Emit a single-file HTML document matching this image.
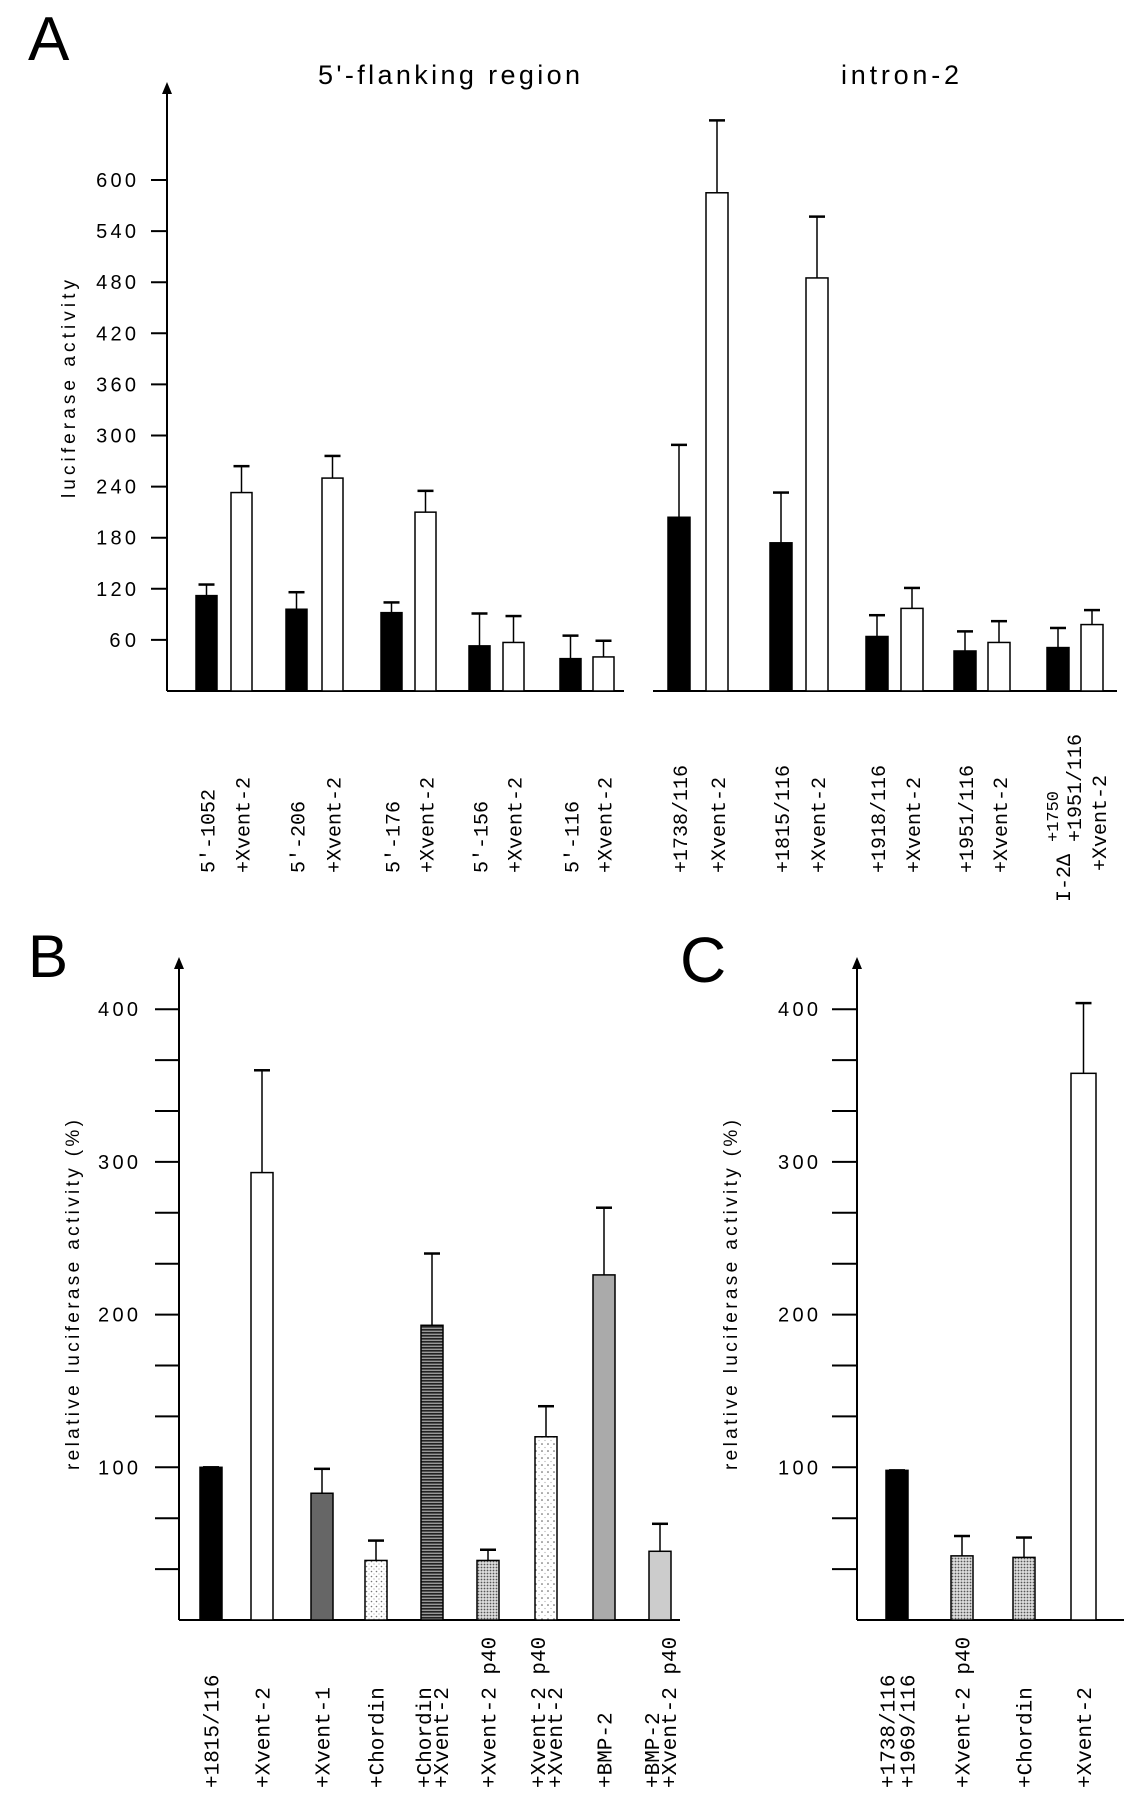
<!DOCTYPE html>
<html><head><meta charset="utf-8"><style>
html,body{margin:0;padding:0;background:#fff}
svg{display:block}
text{font-family:"Liberation Sans",sans-serif;fill:#000}
.mono{font-family:"Liberation Mono",monospace}
</style></head><body>
<svg id="fig" width="1146" height="1800" viewBox="0 0 1146 1800" xmlns="http://www.w3.org/2000/svg">
<defs>
<pattern id="dotsLight" width="5" height="5" patternUnits="userSpaceOnUse"><rect width="5" height="5" fill="#fff"/><circle cx="1.5" cy="1.5" r="0.8" fill="#777"/><circle cx="4" cy="4" r="0.6" fill="#aaa"/></pattern>
<pattern id="dotsDense" width="3" height="3" patternUnits="userSpaceOnUse"><rect width="3" height="3" fill="#ddd"/><circle cx="1.5" cy="1.5" r="0.9" fill="#555"/></pattern>
<pattern id="dotsSparse" width="6" height="7" patternUnits="userSpaceOnUse"><rect width="6" height="7" fill="#fff"/><circle cx="2" cy="2" r="0.8" fill="#555"/><circle cx="5" cy="5.5" r="0.6" fill="#aaa"/></pattern>
<pattern id="stripes" width="4" height="3" patternUnits="userSpaceOnUse"><rect width="4" height="3" fill="#999"/><rect width="4" height="1.6" fill="#222"/></pattern>
</defs>
<g id="root"></g>
</svg>
<script>
// ---------- Panel A data ----------
const aLeftLabels = ["5'-1052","+Xvent-2","5'-206","+Xvent-2","5'-176","+Xvent-2","5'-156","+Xvent-2","5'-116","+Xvent-2"];
const aLeftValues = [112,233,96,250,92,210,53,57,38,40];
const aLeftErrors = [125,264,116,276,104,235,91,88,65,59];
const aRightLabels = ["+1738/116","+Xvent-2","+1815/116","+Xvent-2","+1918/116","+Xvent-2","+1951/116","+Xvent-2","",""];
const aRightValues = [204,585,174,485,64,97,47,57,51,78];
const aRightErrors = [289,670,233,557,89,121,70,82,74,95];
const aTicks = [60,120,180,240,300,360,420,480,540,600];
// ---------- Panel B data ----------
const bLabels = [["+1815/116"],["+Xvent-2"],["+Xvent-1"],["+Chordin"],["+Chordin","+Xvent-2"],["+Xvent-2 p40"],["+Xvent-2 p40","+Xvent-2"],["+BMP-2"],["+BMP-2","+Xvent-2 p40"]];
const bValues = [100,293,83,39,193,39,120,226,45];
const bErrors = [100,360,99,52,240,46,140,270,63];
const bTicks = [100,200,300,400];
// ---------- Panel C data ----------
const cLabels = [["+1738/116","+1969/116"],["+Xvent-2 p40"],["+Chordin"],["+Xvent-2"]];
const cValues = [98,42,41,358];
const cErrors = [98,55,54,404];
const cTicks = [100,200,300,400];

const NS="http://www.w3.org/2000/svg";
const root=document.getElementById('root');
function mk(tag,attrs,parent){const e=document.createElementNS(NS,tag);for(const k in attrs)e.setAttribute(k,attrs[k]);(parent||root).appendChild(e);return e;}

const yA=v=>691-v*(51.1/60);
const yB=v=>1620-v*1.527;
const yC=v=>1620-v*1.527;

const aFillsL=["#000","#fff"];
const bFills=["#000","#fff","#666","url(#dotsLight)","url(#stripes)","url(#dotsDense)","url(#dotsSparse)","#aaa","#ccc"];
const cFills=["#000","url(#dotsDense)","url(#dotsDense)","#fff"];

function axis(x,top,base,xEnd,name){
  const ln=mk('line',{x1:x,y1:top+8,x2:x,y2:base,stroke:'#000','stroke-width':2});
  
  
  const ar=mk('polygon',{points:`${x-5},${top+12} ${x+5},${top+12} ${x},${top}`,fill:'#000'});
  
  
  const bl=mk('line',{x1:x,y1:base,x2:xEnd,y2:base,stroke:'#000','stroke-width':2});
  
  
}
function bar(x,w,val,err,yf,fill,name){
  const g=mk('g',{});
  
  
  const cx=x+w/2;
  mk('line',{x1:cx,y1:yf(err),x2:cx,y2:yf(val),stroke:'#000','stroke-width':1.5},g);
  mk('line',{x1:cx-8,y1:yf(err),x2:cx+8,y2:yf(err),stroke:'#000','stroke-width':2.5},g);
  mk('rect',{x:x,y:yf(val),width:w,height:yf(0)-yf(val),fill:fill,stroke:'#000','stroke-width':1.5},g);
}
function vlabel(lines,cx,bottom,fs,sp,name){
  const n=lines.length;
  lines.forEach((t,i)=>{
    const x=cx+(i-(n-1)/2)*sp+fs*0.35;
    const tx=mk('text',{x:0,y:0,'font-size':fs,class:'mono',transform:`translate(${x},${bottom}) rotate(-90)`});
    tx.textContent=t;
    
    
  });
}
function txt(s,x,y,fs,attrs,name){
  const t=mk('text',Object.assign({x:x,y:y,'font-size':fs},attrs||{}));
  t.textContent=s;
  
  
  return t;
}

// ===== Panel A =====
txt('A',28,60,62,{},'panel-a-letter');
txt("5'-flanking region",449,84,27,{'text-anchor':'middle',textLength:262},'flanking-region-title');
txt('intron-2',900,84,27,{'text-anchor':'middle',textLength:118},'intron-2-title');
axis(167,82,691,624,'panel-a');
const blr=mk('line',{x1:653,y1:691,x2:1117,y2:691,stroke:'#000','stroke-width':2});


aTicks.forEach(v=>{
  const l=mk('line',{x1:151,y1:yA(v),x2:168,y2:yA(v),stroke:'#000','stroke-width':2});
  
  
  txt(String(v),136,yA(v)+7,20,{'text-anchor':'end',textLength:String(v).length*13.3},'y-tick-label');
});
txt('luciferase activity',0,0,19,{'text-anchor':'middle',transform:'translate(75,389) rotate(-90)',textLength:218},'y-axis-title');
const aLx=[196,231,286,322,381,415,469,503,560,593];
const aRx=[668,706,770,806,866,901,954,988,1047,1081];
aLeftValues.forEach((v,i)=>{
  bar(aLx[i],21,v,aLeftErrors[i],yA,aFillsL[i%2],'bar-flank-'+i);
  vlabel([aLeftLabels[i]],aLx[i]+11.5,873,20,0,'x-label');
});
aRightValues.forEach((v,i)=>{
  bar(aRx[i],22,v,aRightErrors[i],yA,aFillsL[i%2],'bar-intron-'+i);
  if(aRightLabels[i]) vlabel([aRightLabels[i]],aRx[i]+12,873,20,0,'x-label');
});
// composite label I-2Δ +1750 / +1951/116 / +Xvent-2
txt('I-2\u0394',0,0,20,{class:'mono',transform:'translate(1070,902) rotate(-90)'},'x-label-deletion');
txt('+1750',0,0,17,{class:'mono',transform:'translate(1058,842) rotate(-90)'},'x-label-deletion-sup');
txt('+1951/116',0,0,20,{class:'mono',transform:'translate(1081,842) rotate(-90)'},'x-label-deletion-b');
txt('+Xvent-2',0,0,20,{class:'mono',transform:'translate(1106,871) rotate(-90)'},'x-label-deletion-xvent');

// ===== Panel B =====
txt('B',28,977,60,{},'panel-b-letter');
axis(179,957,1620,680,'panel-b');
for(let k=1;k<=12;k++){
  const v=k*100/3;
  const l=mk('line',{x1:155,y1:yB(v),x2:179,y2:yB(v),stroke:'#000','stroke-width':2});
  
  
}
bTicks.forEach(v=>txt(String(v),138,yB(v)+7,20,{'text-anchor':'end',textLength:40},'y-tick-label'));
txt('relative luciferase activity (%)',0,0,19,{'text-anchor':'middle',transform:'translate(79,1295) rotate(-90)',textLength:350},'y-axis-title-b');
const bX=[200,251,311,365,421,477,535,593,649];
bValues.forEach((v,i)=>{
  bar(bX[i],22,v,bErrors[i],yB,bFills[i],'bar-b-'+i);
  vlabel(bLabels[i],bX[i]+11,1788,21,17,'x-label-b');
});

// ===== Panel C =====
txt('C',680,982,64,{},'panel-c-letter');
axis(857,957,1620,1124,'panel-c');
for(let k=1;k<=12;k++){
  const v=k*100/3;
  const l=mk('line',{x1:832,y1:yC(v),x2:857,y2:yC(v),stroke:'#000','stroke-width':2});
  
  
}
cTicks.forEach(v=>txt(String(v),818,yC(v)+7,20,{'text-anchor':'end',textLength:40},'y-tick-label'));
txt('relative luciferase activity (%)',0,0,19,{'text-anchor':'middle',transform:'translate(737,1295) rotate(-90)',textLength:350},'y-axis-title-c');
const cX=[886,951,1013,1071];
cValues.forEach((v,i)=>{
  bar(cX[i],i===3?25:22,v,cErrors[i],yC,cFills[i],'bar-c-'+i);
  vlabel(cLabels[i],cX[i]+(i===3?12.5:11),1788,21,20,'x-label-c');
});
</script>
</body></html>
